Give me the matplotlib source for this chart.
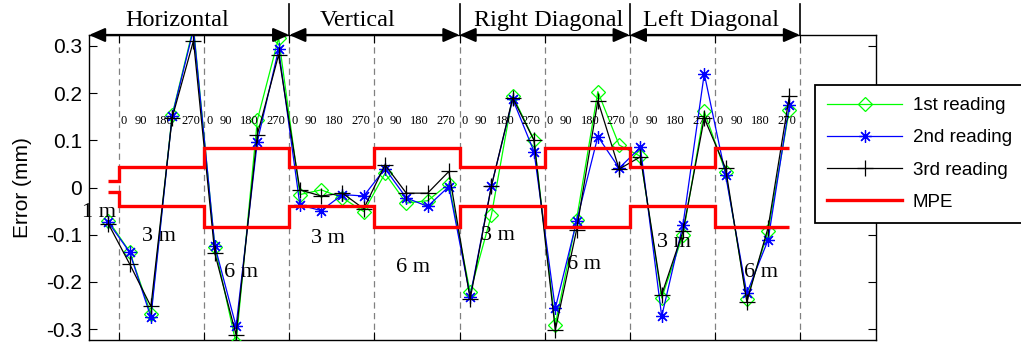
import matplotlib
matplotlib.use("Agg")
import matplotlib.pyplot as plt
import numpy as np

# ---- data -------------------------------------------------------------
# x positions: 1 m point, then 4 angles per 3 m / 6 m block for each direction
directions = ["Horizontal", "Vertical", "Right Diagonal", "Left Diagonal"]
distances = ["3 m", "6 m"]
angles = ["0", "90", "180", "270"]

x_pts = [-0.5] + [i + 0.5 for i in range(32)]

reading1 = [-0.070,
            -0.136, -0.268, 0.154, 0.340, -0.125, -0.330, 0.143, 0.317,
            -0.015, -0.005, -0.022, -0.051, 0.030, -0.033, -0.028, 0.008,
            -0.222, -0.058, 0.194, 0.101, -0.291, -0.068, 0.203, 0.090,
            0.066, -0.234, -0.100, 0.161, 0.033, -0.236, -0.093, 0.165]
reading2 = [-0.074,
            -0.137, -0.275, 0.152, 0.335, -0.123, -0.294, 0.097, 0.293,
            -0.037, -0.049, -0.015, -0.018, 0.040, -0.022, -0.040, 0.002,
            -0.231, 0.004, 0.187, 0.076, -0.256, -0.072, 0.108, 0.041,
            0.085, -0.273, -0.079, 0.241, 0.027, -0.224, -0.111, 0.175]
reading3 = [-0.077,
            -0.162, -0.252, 0.148, 0.311, -0.139, -0.312, 0.112, 0.281,
            -0.005, -0.018, -0.012, -0.045, 0.048, -0.012, -0.012, 0.034,
            -0.236, 0.003, 0.190, 0.100, -0.302, -0.090, 0.184, 0.039,
            0.065, -0.227, -0.093, 0.147, 0.041, -0.242, -0.085, 0.194]

# MPE step limits (1 m, then 3 m / 6 m alternating)
mpe_edges = [-0.5, 0, 4, 8, 12, 16, 20, 24, 28, 31.5]
mpe_upper = [0.014, 0.043, 0.084, 0.043, 0.084, 0.043, 0.084, 0.043, 0.084]
mpe_lower = [-0.010, -0.039, -0.083, -0.039, -0.083, -0.039, -0.083, -0.039, -0.083]

yticks = [-0.3, -0.2, -0.1, 0, 0.1, 0.2, 0.3]
ytick_labels = ["-0.3", "-0.2", "-0.1", "0", "0.1", "0.2", "0.3"]

# ---- layout (label placement) -----------------------------------------
XLIM = (-1.41, 35.57)
YLIM = (-0.323, 0.323)
SERIF = "Liberation Serif"
SANS = "Liberation Sans"
angle_offsets = [0.235, 1.02, 2.13, 3.37]
title_x = [2.75, 11.21, 20.18, 27.82]
dist_pos = [(1.88, -0.114), (5.73, -0.189), (9.82, -0.118), (13.82, -0.178),
            (17.81, -0.111), (21.85, -0.173), (26.08, -0.125), (30.17, -0.189)]

plt.rcParams["font.family"] = SANS

fig = plt.figure(figsize=(10.21, 3.42), dpi=100)
ax = fig.add_axes([89 / 1021, 2 / 342, 787 / 1021, 305 / 342])

# section separators (dashed)
for xb in range(0, 33, 4):
    ax.axvline(xb, color="#808080", lw=0.9, ls=(0, (5, 3.5)), zorder=1)

ax.plot(x_pts, reading1, color="#00ff00", lw=0.9, marker="D", ms=7,
        mfc="none", mec="#00ff00", mew=0.9, label="1st reading", zorder=3)
ax.plot(x_pts, reading2, color="#0000ff", lw=0.9, marker=(8, 2, 0), ms=9,
        mec="#0000ff", mew=0.9, label="2nd reading", zorder=4)
ax.plot(x_pts, reading3, color="black", lw=0.9, marker="+", ms=11,
        mew=0.9, label="3rd reading", zorder=5)
ax.stairs(mpe_upper, mpe_edges, baseline=None, color="red", lw=2.4,
          label="MPE", zorder=6)
ax.stairs(mpe_lower, mpe_edges, baseline=None, color="red", lw=2.4, zorder=6)

# angle labels
for s in range(8):
    for a, off in zip(angles, angle_offsets):
        ax.text(4 * s + off, 0.135, a, ha="center", va="baseline",
                fontsize=9, family=SERIF, zorder=7)

# distance labels
ax.text(-0.94, -0.063, "1 m", ha="center", va="baseline", fontsize=16,
        family=SERIF, clip_on=False)
for (xx, yy), lab in zip(dist_pos, distances * 4):
    ax.text(xx, yy, lab, ha="center", va="baseline", fontsize=16, family=SERIF)

# direction arrows, titles and bars
starts = [XLIM[0], 8, 16, 24]
for i, name in enumerate(directions):
    ax.annotate("", xy=(starts[i], YLIM[1]), xytext=(8 * (i + 1), YLIM[1]),
                arrowprops=dict(arrowstyle="<|-|>,head_length=0.8,head_width=0.35",
                                color="black", lw=1.6, shrinkA=0, shrinkB=0,
                                mutation_scale=12),
                annotation_clip=False, zorder=8)
    ax.text(title_x[i], 0.3426, name, ha="center", va="baseline", fontsize=17.5,
            family=SERIF, clip_on=False)
    ax.plot([8 * (i + 1)] * 2, [YLIM[1], 0.388], color="black", lw=1.2,
            clip_on=False, zorder=8)

ax.set_xlim(*XLIM)
ax.set_ylim(*YLIM)
ax.set_xticks(range(0, 33, 4))
ax.set_xticklabels([])
ax.set_yticks(yticks)
ax.set_yticklabels(ytick_labels)
ax.tick_params(axis="both", direction="in", length=6, width=0.8,
               top=True, right=True, labelsize=15, pad=5)
for sp in ax.spines.values():
    sp.set_linewidth(1.0)
ax.set_ylabel("Error (mm)", fontsize=15)
ax.yaxis.set_label_coords(-0.072, 0.5)

leg = ax.legend(loc="upper left", bbox_to_anchor=(815 / 1021, 1 - 85 / 342),
                bbox_transform=fig.transFigure, borderaxespad=0,
                fontsize=13.5, handlelength=4.0, handletextpad=0.55,
                labelspacing=0.8, numpoints=1, fancybox=False, framealpha=1,
                edgecolor="black", borderpad=0.65)
leg.get_frame().set_linewidth(1.3)
leg.set_zorder(10)

fig.savefig("out.png", dpi=100)
